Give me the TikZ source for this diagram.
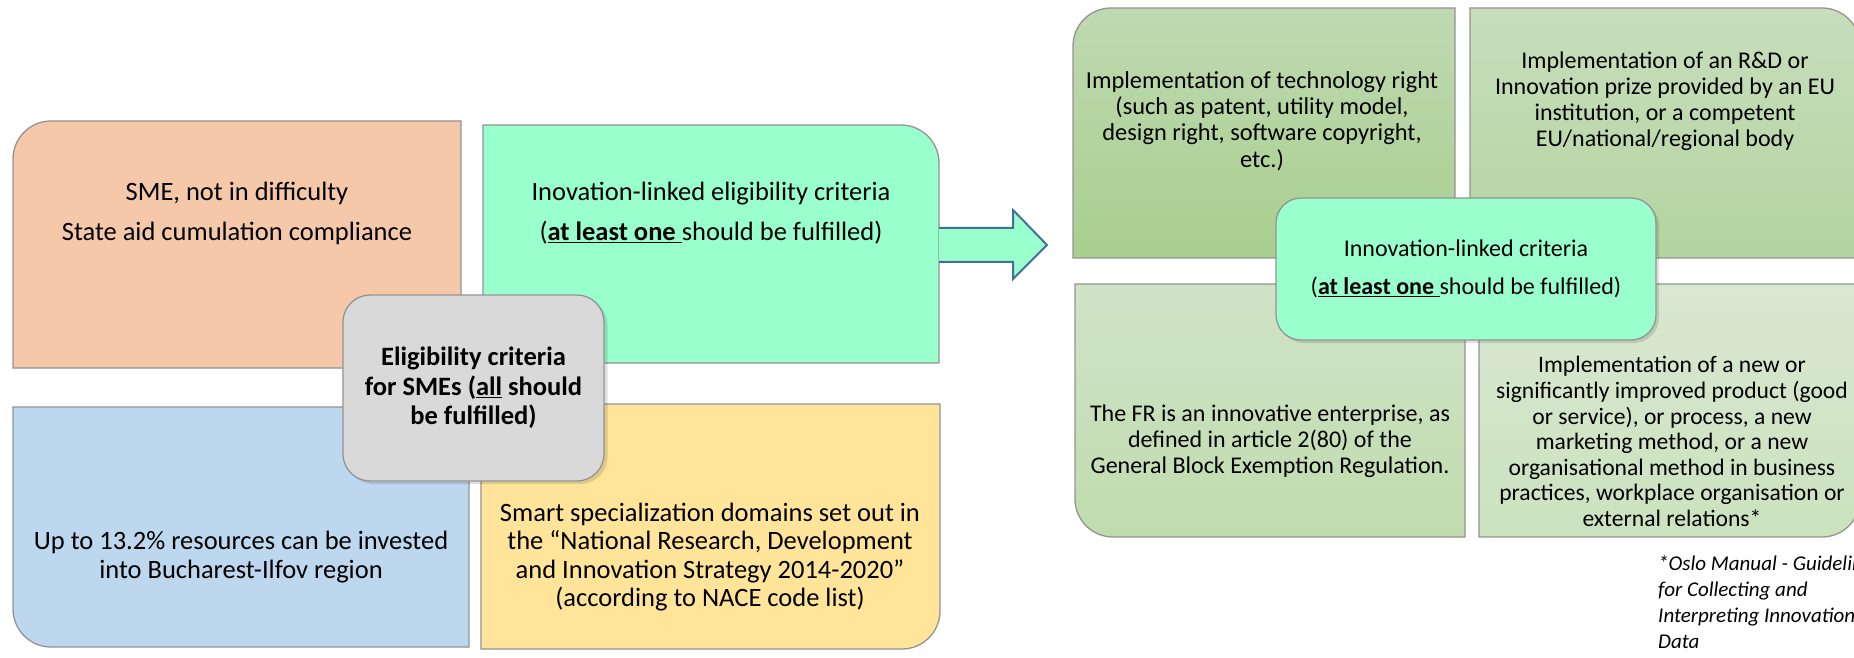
\documentclass[tikz,border=0pt]{standalone}
\usepackage{fontspec}
\setmainfont{Carlito}
\usetikzlibrary{calc}
\definecolor{cOrange}{HTML}{F5C8AA}
\definecolor{cMint}{HTML}{99FFCC}
\definecolor{cBlue}{HTML}{BDD7EE}
\definecolor{cYellow}{HTML}{FFE499}
\definecolor{cGray}{HTML}{D9D9D9}
\definecolor{cBorder}{HTML}{949494}
\definecolor{cArrow}{HTML}{41719C}
\definecolor{gTLa}{HTML}{BFD9B1}
\definecolor{gTLb}{HTML}{A8CF8E}
\definecolor{gTRa}{HTML}{C8DEBC}
\definecolor{gTRb}{HTML}{B3D4A0}
\definecolor{gBLa}{HTML}{D0E3C7}
\definecolor{gBLb}{HTML}{C0DCAE}
\definecolor{gBRa}{HTML}{D9E8D1}
\definecolor{gBRb}{HTML}{CBE2BE}
\tikzset{
  boxline/.style={draw=cBorder, line width=1.3pt},
  lefttext/.style={font=\fontsize{26.5}{28.5}\selectfont, align=center, inner sep=0pt, text=black},
  righttext/.style={font=\fontsize{24}{26}\selectfont, align=center, inner sep=0pt, text=black},
  hubbox/.style={draw=cBorder, line width=1.3pt, align=center, inner sep=0pt},
  blockarrow/.style={fill=cMint, draw=cArrow, line width=2pt, line join=miter}
}
\begin{document}
\begin{tikzpicture}[x=1pt,y=1pt]
\clip (0,0) rectangle (1854,657);
\fill[white] (0,0) rectangle (1854,657);

% ---------------- left group ----------------
\path[boxline, fill=cOrange] (13,289) -- (13,498) arc[start angle=180,end angle=90,radius=38pt] -- (461,536) -- (461,289) -- cycle;
\path[boxline, fill=cMint] (483,294) -- (483,532) -- (901,532) arc[start angle=90,end angle=0,radius=38pt] -- (939,294) -- cycle;
\path[boxline, fill=cBlue] (13,250) -- (469,250) -- (469,10) -- (51,10) arc[start angle=270,end angle=180,radius=38pt] -- cycle;
\path[boxline, fill=cYellow] (481,8) -- (481,253) -- (940,253) -- (940,46) arc[start angle=0,end angle=-90,radius=38pt] -- cycle;

\node[lefttext] (tOrange) at (237,444) {SME, not in difficulty\\[11.5pt] State aid cumulation compliance};
\node[lefttext] (tTeal) at (711,444) {Inovation-linked eligibility criteria\\[11.5pt] (\underline{\textbf{at least one }}should be fulfilled)};
\node[lefttext] (tBlue) at (241,100) {Up to 13.2\% resources can be invested\\ into Bucharest-Ilfov region};
\node[lefttext] (tYellow) at (710,100) {Smart specialization domains set out in\\ the “National Research, Development\\ and Innovation Strategy 2014-2020”\\ (according to NACE code list)};

\fill[black, opacity=0.12, rounded corners=27pt] (346.5,173) rectangle (607.5,359);
\node[hubbox, fill=cGray, rounded corners=27pt, minimum width=261pt, minimum height=186pt,
      font=\bfseries\fontsize{26.5}{29.5}\selectfont] (hubL) at (473.5,269)
      {Eligibility criteria\\ for SMEs (\underline{all} should\\ be fulfilled)};

% ---------------- arrow ----------------
\coordinate (arrS) at (939,412);
\coordinate (arrT) at (1047,412);
\path[blockarrow] ($(arrS)+(0,17)$) -- ($(arrT)+(-34,17)$) -- ($(arrT)+(-34,35)$) -- (arrT)
   -- ($(arrT)+(-34,-34)$) -- ($(arrT)+(-34,-17)$) -- ($(arrS)+(0,-17)$);

% ---------------- right group ----------------
\path[boxline, top color=gTLa, bottom color=gTLb] (1073,399) -- (1073,611) arc[start angle=180,end angle=90,radius=38pt] -- (1455,649) -- (1455,399) -- cycle;
\path[boxline, top color=gTRa, bottom color=gTRb] (1470,399) -- (1470,649) -- (1822,649) arc[start angle=90,end angle=0,radius=38pt] -- (1860,399) -- cycle;
\path[boxline, top color=gBLa, bottom color=gBLb] (1075,373) -- (1465,373) -- (1465,120) -- (1113,120) arc[start angle=270,end angle=180,radius=38pt] -- cycle;
\path[boxline, top color=gBRa, bottom color=gBRb] (1479,120) -- (1479,373) -- (1860,373) -- (1860,158) arc[start angle=0,end angle=-90,radius=38pt] -- cycle;

\node[righttext, font=\fontsize{24.4}{26.3}\selectfont] (tTL) at (1262,536) {Implementation of technology right\\ (such as patent, utility model,\\ design right, software copyright,\\ etc.)};
\node[righttext] (tTR) at (1665,555.5) {Implementation of an R\&D or\\ Innovation prize provided by an EU\\ institution, or a competent\\ EU/national/regional body};
\node[righttext] (tBL) at (1270,216) {The FR is an innovative enterprise, as\\ defined in article 2(80) of the\\ General Block Exemption Regulation.};
\node[righttext, font=\fontsize{23.6}{25.6}\selectfont] (tBR) at (1672,215.5) {Implementation of a new or\\ significantly improved product (good\\ or service), or process, a new\\ marketing method, or a new\\ organisational method in business\\ practices, workplace organisation or\\ external relations*};

\fill[black, opacity=0.12, rounded corners=25pt] (1279,314) rectangle (1659,456);
\node[hubbox, fill=cMint, rounded corners=25pt, minimum width=380pt, minimum height=142pt,
      font=\fontsize{24}{26}\selectfont] (hubR) at (1466,388)
      {Innovation-linked criteria\\[12pt] (\underline{\textbf{at least one }}should be fulfilled)};

\node[anchor=north west, align=left, inner sep=0pt, font=\itshape\fontsize{21}{26}\selectfont] (fn) at (1658,102)
      {*Oslo Manual - Guidelines\\ for Collecting and\\ Interpreting Innovation\\ Data};
\end{tikzpicture}
\end{document}
